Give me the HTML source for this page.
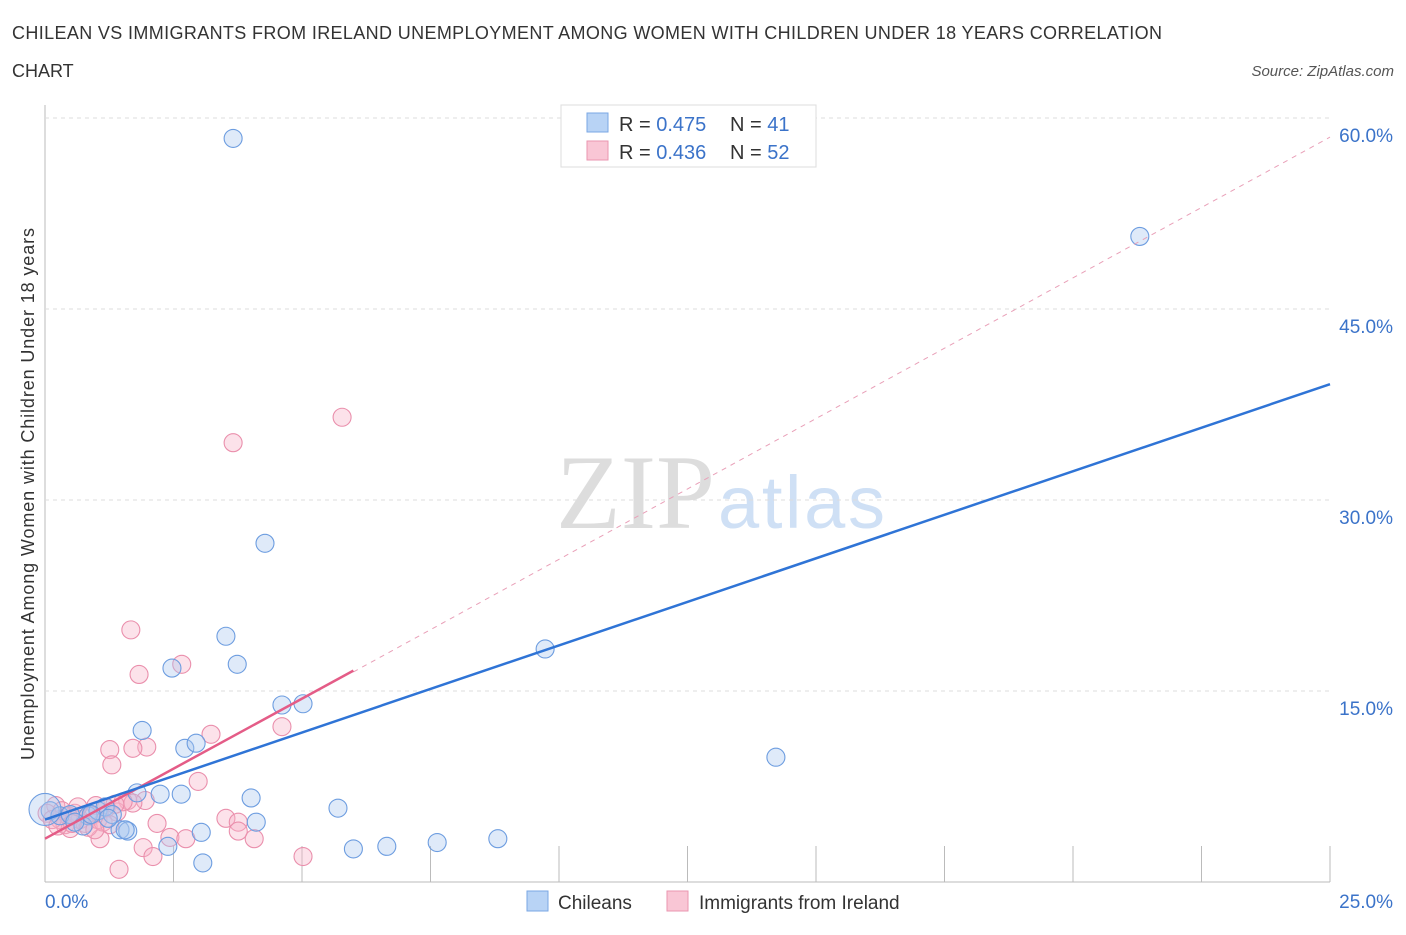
<!DOCTYPE html>
<html><head><meta charset="utf-8"><style>
body{margin:0;background:#fff;font-family:"Liberation Sans",sans-serif;}
</style></head><body>
<svg width="1406" height="930" xmlns="http://www.w3.org/2000/svg" id="chart">
<text x="12" y="39" font-size="18" fill="#333" textLength="1150">CHILEAN VS IMMIGRANTS FROM IRELAND UNEMPLOYMENT AMONG WOMEN WITH CHILDREN UNDER 18 YEARS CORRELATION</text>
<text x="12" y="77" font-size="18" fill="#333">CHART</text>
<text x="1394" y="76" font-size="15" fill="#555" font-style="italic" text-anchor="end">Source: ZipAtlas.com</text>
<text x="715" y="528" font-size="106" fill="#ddd" text-anchor="end" font-family="Liberation Serif,serif">ZIP</text>
<text x="718" y="528" font-size="74" fill="#cfe0f5" textLength="167">atlas</text>
<text transform="translate(34,494) rotate(-90)" font-size="18" fill="#333" text-anchor="middle" textLength="532">Unemployment Among Women with Children Under 18 years</text>
<g id="grid"></g><g id="pts"></g><g id="lines"></g>
<g>
<rect x="561" y="105" width="255" height="62" fill="#fff" stroke="#ddd"/>
<rect x="587" y="113" width="21" height="19" fill="#b8d3f5" stroke="#7aa7e4"/>
<rect x="587" y="141" width="21" height="19" fill="#f9c6d5" stroke="#ea96b0"/>
<text x="619" y="131" font-size="20" fill="#333">R = <tspan fill="#3b73c9">0.475</tspan></text>
<text x="730" y="131" font-size="20" fill="#333">N = <tspan fill="#3b73c9"> 41</tspan></text>
<text x="619" y="159" font-size="20" fill="#333">R = <tspan fill="#3b73c9">0.436</tspan></text>
<text x="730" y="159" font-size="20" fill="#333">N = <tspan fill="#3b73c9">52</tspan></text>
</g>
<g>
<rect x="527" y="891" width="21" height="20" fill="#b8d3f5" stroke="#7aa7e4"/>
<text x="558" y="909" font-size="19" fill="#333">Chileans</text>
<rect x="667" y="891" width="21" height="20" fill="#f9c6d5" stroke="#ea96b0"/>
<text x="699" y="909" font-size="19" fill="#333">Immigrants from Ireland</text>
</g>
</svg>
<script>
const blueX=[3.66,21.3,4.28,9.73,3.52,3.74,2.47,14.22,4.61,5.02,1.89,2.72,2.94,1.79,2.24,2.65,4.01,5.7,4.11,3.04,1.46,1.61,2.39,3.07,6.0,6.65,7.63,8.81,0.1,0.29,0.49,0.84,1.03,1.17,1.31,0.74,1.56,0.58,1.23,0.9,0.0];
const blueY=[58.4,50.7,26.6,18.3,19.3,17.1,16.8,9.8,13.9,14.0,11.9,10.5,10.9,7.0,6.9,6.9,6.6,5.8,4.7,3.9,4.1,4.0,2.8,1.5,2.6,2.8,3.1,3.4,5.6,5.2,5.3,5.2,5.6,5.9,5.3,4.4,4.1,4.7,5.0,5.3,5.7];
const pinkX=[1.67,3.66,5.78,1.83,2.66,3.23,4.61,1.26,1.98,1.71,1.3,2.98,1.95,1.61,1.71,3.52,3.76,2.18,3.76,4.07,2.43,2.74,1.91,2.1,1.44,5.02,1.07,0.99,1.19,1.4,0.21,0.29,0.39,0.49,0.58,0.68,0.78,0.84,0.91,1.03,1.13,0.33,0.45,0.04,0.14,0.64,1.26,1.52,1.36,0.97,0.53,0.25];
const pinkY=[19.8,34.5,36.5,16.3,17.1,11.6,12.2,10.4,10.6,10.5,9.2,7.9,6.4,6.4,6.2,5.0,4.7,4.6,4.0,3.4,3.5,3.4,2.7,2.0,1.0,2.0,3.4,6.0,5.8,5.5,6.0,4.9,4.5,4.2,5.4,4.9,4.6,4.3,5.2,4.9,4.7,5.6,5.2,5.4,4.9,5.9,4.5,6.3,6.1,4.1,4.6,4.4];
const yTicks=[15,30,45,60];
const yTickLabels=["15.0%","30.0%","45.0%","60.0%"];
const X=v=>45+v*51.4, Y=v=>882-v*12.733;
const NS="http://www.w3.org/2000/svg";
function mk(t,a,p){const e=document.createElementNS(NS,t);for(const k in a)e.setAttribute(k,a[k]);p.appendChild(e);return e;}
const g=document.getElementById('grid');
mk('line',{x1:45,y1:105,x2:45,y2:882,stroke:'#bbb'},g);
mk('line',{x1:45,y1:882,x2:1330,y2:882,stroke:'#bbb'},g);
for(let i=1;i<=10;i++){mk('line',{x1:X(i*2.5),y1:846,x2:X(i*2.5),y2:882,stroke:'#bbb'},g);}
yTicks.forEach((t,i)=>{
const l=mk('line',{x1:45,y1:Y(t),x2:1330,y2:Y(t),stroke:'#ddd','stroke-dasharray':'4,4'},g);


const tx=mk('text',{x:1393,y:Y(t)+24,'font-size':19,fill:'#3b73c9','text-anchor':'end'},g);tx.textContent=yTickLabels[i];


});
let t0=mk('text',{x:45,y:908,'font-size':19,fill:'#3b73c9'},g);t0.textContent='0.0%';


let t1=mk('text',{x:1393,y:908,'font-size':19,fill:'#3b73c9','text-anchor':'end'},g);t1.textContent='25.0%';


const p=document.getElementById('pts');
pinkX.forEach((x,i)=>{const c=mk('circle',{cx:X(x),cy:Y(pinkY[i]),r:9,fill:'rgba(248,180,200,0.38)',stroke:'#ea8fac','stroke-width':1.1},p);

});
blueX.forEach((x,i)=>{const c=mk('circle',{cx:X(x),cy:Y(blueY[i]),r:i==blueX.length-1?16:9,fill:'rgba(170,200,240,0.38)',stroke:'#6d9de0','stroke-width':1.1},p);

});
const L=document.getElementById('lines');
let a=mk('line',{x1:X(6),y1:Y(16.5),x2:X(25),y2:Y(58.5),stroke:'#e9a0b8','stroke-dasharray':'5,5','stroke-width':1},L);


let b=mk('line',{x1:X(0),y1:Y(3.4),x2:X(6),y2:Y(16.6),stroke:'#e45c87','stroke-width':2.5},L);


let c=mk('line',{x1:X(0),y1:Y(4.9),x2:X(25),y2:Y(39.1),stroke:'#2f74d6','stroke-width':2.5},L);


</script>
</body></html>
